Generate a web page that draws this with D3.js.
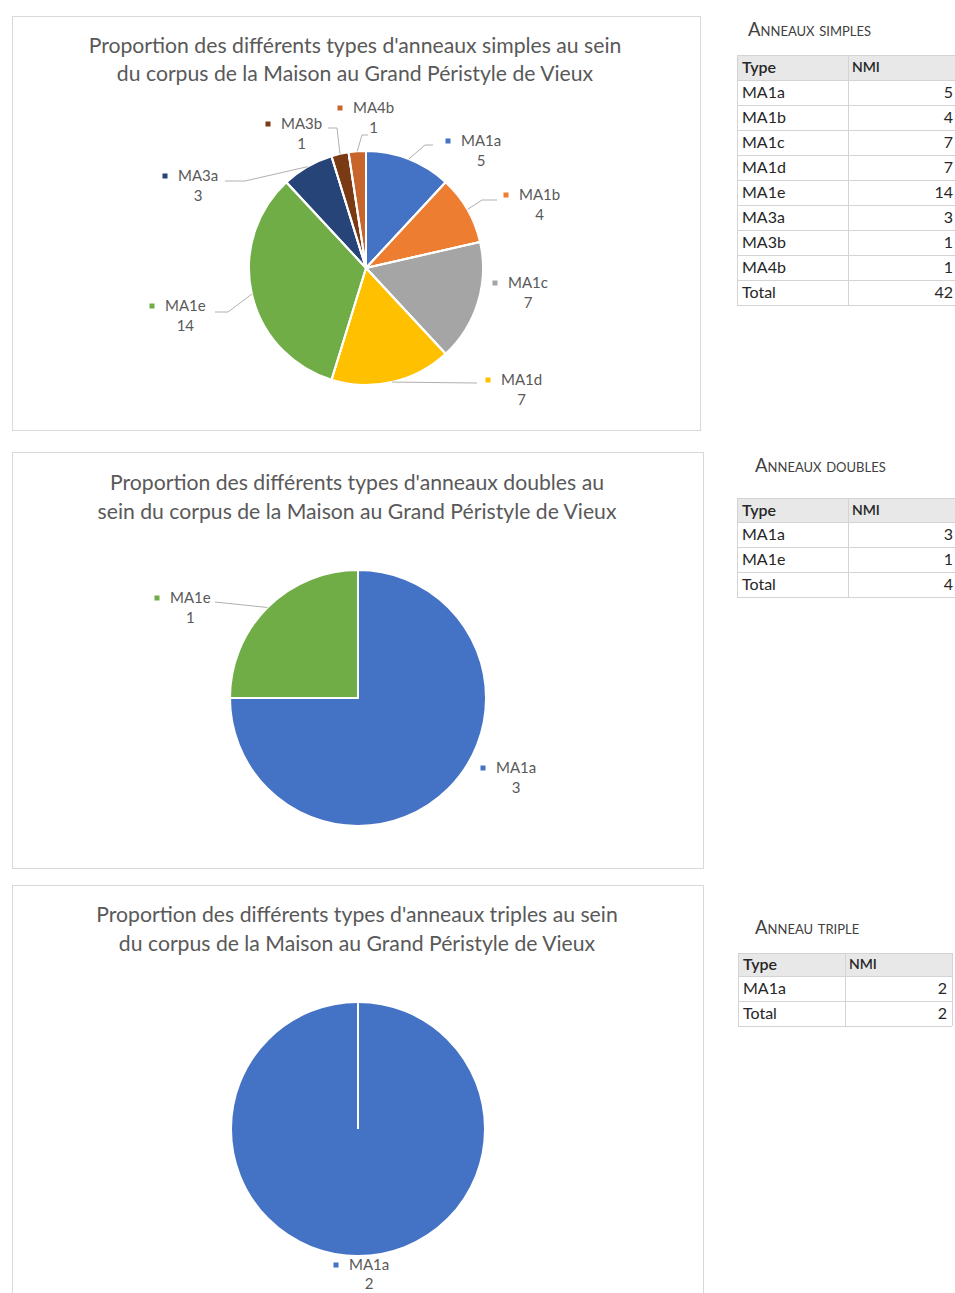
<!DOCTYPE html>
<html>
<head>
<meta charset="utf-8">
<script src="https://cdn.jsdelivr.net/npm/d3@7"></script>
<style>
  body { margin: 0; background: #fff; }
  svg { display: block; }
</style>
</head>
<body>
<svg id="fig" width="955" height="1293"></svg>
<script>
// ---- Data: number of individuals (NMI) per ring type ----
const simpleTypes = ["MA1a", "MA1b", "MA1c", "MA1d", "MA1e", "MA3a", "MA3b", "MA4b"];
const simpleNMI   = [5, 4, 7, 7, 14, 3, 1, 1];

const doubleTypes = ["MA1a", "MA1e"];
const doubleNMI   = [3, 1];

const tripleTypes = ["MA1a"];
const tripleNMI   = [2];

const typeColors = {
  MA1a: "#4472C4", MA1b: "#ED7D31", MA1c: "#A5A5A5", MA1d: "#FFC000",
  MA1e: "#70AD47", MA3a: "#264478", MA3b: "#7A3A14", MA4b: "#C8652C"
};

const chartTitles = [
  ["Proportion des différents types d'anneaux simples au sein",
   "du corpus de la Maison au Grand Péristyle de Vieux"],
  ["Proportion des différents types d'anneaux doubles au",
   "sein du corpus de la Maison au Grand Péristyle de Vieux"],
  ["Proportion des différents types d'anneaux triples au sein",
   "du corpus de la Maison au Grand Péristyle de Vieux"]
];
const tableTitles  = ["Anneaux simples", "Anneaux doubles", "Anneau triple"];
const tableHeaders = ["Type", "NMI"];
const totalLabel   = "Total";

// ---- Layout ----
const charts = [
  { types: simpleTypes, values: simpleNMI, title: chartTitles[0],
    box: [12, 16, 688, 414], titleX: 355, titleY: [46, 74],
    cx: 366, cy: 268, r: 117, valueGap: 20,
    labels: {
      MA1a: { mx: 448, my: 141, lead: [[425, 145], [433, 145]] },
      MA1b: { mx: 506, my: 195, lead: [[482, 200], [497, 200]] },
      MA1c: { mx: 495, my: 283, lead: [] },
      MA1d: { mx: 488, my: 380, lead: [[477, 383]] },
      MA1e: { mx: 152, my: 306, lead: [[228, 312], [215, 312]] },
      MA3a: { mx: 165, my: 176, lead: [[245, 181], [225, 181]] },
      MA3b: { mx: 268, my: 124, lead: [[337, 128], [328, 128]] },
      MA4b: { mx: 340, my: 108, lead: [[362, 135], [368, 135]] }
    } },
  { types: doubleTypes, values: doubleNMI, title: chartTitles[1],
    box: [12, 452, 691, 416], titleX: 357, titleY: [483, 512],
    cx: 358, cy: 698, r: 128, valueGap: 20,
    labels: {
      MA1a: { mx: 483, my: 768, lead: [] },
      MA1e: { mx: 157, my: 598, lead: [[215, 602]] }
    } },
  { types: tripleTypes, values: tripleNMI, title: chartTitles[2],
    box: [12, 885, 691, 420], titleX: 357, titleY: [915, 944],
    cx: 358, cy: 1129, r: 127, valueGap: 19,
    labels: {
      MA1a: { mx: 336, my: 1265, lead: [] }
    } }
];

const tables = [
  { title: tableTitles[0], types: simpleTypes, values: simpleNMI,
    titleX: 748, titleY: 30, x0: 737, x1: 848, x2: 962, top: 55, headH: 25, rowH: 25, valX: 953 },
  { title: tableTitles[1], types: doubleTypes, values: doubleNMI,
    titleX: 755, titleY: 466, x0: 737, x1: 848, x2: 962, top: 498, headH: 24, rowH: 25, valX: 953 },
  { title: tableTitles[2], types: tripleTypes, values: tripleNMI,
    titleX: 755, titleY: 928, x0: 738, x1: 845, x2: 952, top: 953, headH: 23, rowH: 25, valX: 947 }
];

const svg = d3.select("#fig");
const textCol = "#595959";
const chartFont = "Lato, 'Open Sans', sans-serif";

// ---- Pie charts ----
charts.forEach(c => {
  const g = svg.append("g");
  g.append("rect")
    .attr("x", c.box[0] + 0.5).attr("y", c.box[1] + 0.5)
    .attr("width", c.box[2]).attr("height", c.box[3])
    .attr("fill", "#fff").attr("stroke", "#d9d9d9");

  g.append("text")
    .attr("font-family", chartFont).attr("font-size", 21.2).attr("fill", textCol)
    .attr("text-anchor", "middle")
    .selectAll("tspan").data(c.title).join("tspan")
    .attr("x", c.titleX).attr("y", (d, i) => c.titleY[i]).attr("dy", "0.35em")
    .text(d => d);

  const rows = c.types.map((t, i) => ({ type: t, value: c.values[i] }));
  const arcs = d3.pie().sort(null).value(d => d.value)(rows);
  const arc = d3.arc().innerRadius(0).outerRadius(c.r);
  const edge = d3.arc().innerRadius(c.r).outerRadius(c.r);

  const pg = g.append("g").attr("transform", `translate(${c.cx},${c.cy})`);
  pg.selectAll("path.slice").data(arcs).join("path")
    .attr("class", "slice")
    .attr("d", arc)
    .attr("fill", d => typeColors[d.data.type])
    .attr("stroke", "#fff").attr("stroke-width", 2).attr("stroke-linejoin", "round");
  // radial border at each slice start (visible on a single full slice)
  pg.selectAll("line.border").data(arcs).join("line")
    .attr("class", "border")
    .attr("x1", 0).attr("y1", 0)
    .attr("x2", d => c.r * Math.sin(d.startAngle))
    .attr("y2", d => -c.r * Math.cos(d.startAngle))
    .attr("stroke", "#fff").attr("stroke-width", 2);

  // leader lines, from the slice rim to the label
  const line = d3.line();
  g.selectAll("path.leader").data(arcs.filter(d => c.labels[d.data.type].lead.length))
    .join("path")
    .attr("class", "leader")
    .attr("d", d => {
      const [ex, ey] = edge.centroid(d);
      return line([[c.cx + ex, c.cy + ey], ...c.labels[d.data.type].lead]);
    })
    .attr("fill", "none").attr("stroke", "#b0b0b0").attr("stroke-width", 1);

  // data labels: colour key, category name and value
  arcs.forEach(d => {
    const L = c.labels[d.data.type];
    g.append("rect")
      .attr("x", L.mx - 2.5).attr("y", L.my - 2.5).attr("width", 5).attr("height", 5)
      .attr("fill", typeColors[d.data.type]);
    const name = g.append("text")
      .attr("font-family", chartFont).attr("font-size", 15).attr("fill", textCol)
      .attr("x", L.mx + 13).attr("y", L.my).attr("dy", "0.35em")
      .text(d.data.type);
    const w = name.node().getComputedTextLength();
    g.append("text")
      .attr("font-family", chartFont).attr("font-size", 15).attr("fill", textCol)
      .attr("text-anchor", "middle")
      .attr("x", L.mx + 13 + w / 2).attr("y", L.my + c.valueGap).attr("dy", "0.35em")
      .text(d.value);
  });
});

// ---- Count tables ----
tables.forEach(t => {
  const g = svg.append("g").attr("font-family", chartFont);
  g.append("text")
    .attr("x", t.titleX).attr("y", t.titleY).attr("dy", "0.35em")
    .attr("font-size", 18.5).attr("fill", "#404040")
    .style("font-variant", "small-caps")
    .text(t.title);

  const body = t.types.map((ty, i) => [ty, t.values[i]]);
  body.push([totalLabel, d3.sum(t.values)]);
  const bottom = t.top + t.headH + body.length * t.rowH;

  g.append("rect").attr("x", t.x0).attr("y", t.top)
    .attr("width", t.x2 - t.x0).attr("height", t.headH).attr("fill", "#e8e8e8");

  // grid
  const hl = [t.top, ...body.map((b, i) => t.top + t.headH + i * t.rowH), bottom];
  g.selectAll("line.h").data(hl).join("line").attr("class", "h")
    .attr("x1", t.x0).attr("x2", t.x2).attr("y1", d => d + 0.5).attr("y2", d => d + 0.5)
    .attr("stroke", "#d4d4d4");
  g.selectAll("line.v").data([t.x0, t.x1, t.x2]).join("line").attr("class", "v")
    .attr("x1", d => d + 0.5).attr("x2", d => d + 0.5)
    .attr("y1", t.top).attr("y2", bottom)
    .attr("stroke", "#d4d4d4");

  const fs = 16;
  g.append("text").attr("x", t.x0 + 5).attr("y", t.top + t.headH / 2).attr("dy", "0.35em")
    .attr("font-size", fs).attr("font-weight", 600).attr("fill", "#262626").text(tableHeaders[0]);
  g.append("text").attr("x", t.x1 + 4).attr("y", t.top + t.headH / 2).attr("dy", "0.35em")
    .attr("font-size", 14).attr("font-weight", 600).attr("fill", "#262626").text(tableHeaders[1]);

  body.forEach((b, i) => {
    const y = t.top + t.headH + i * t.rowH + t.rowH / 2;
    g.append("text").attr("x", t.x0 + 5).attr("y", y).attr("dy", "0.35em")
      .attr("font-size", fs).attr("fill", "#262626").text(b[0]);
    g.append("text").attr("x", t.valX).attr("y", y).attr("dy", "0.35em")
      .attr("text-anchor", "end").attr("font-size", fs).attr("fill", "#262626").text(b[1]);
  });
});
</script>
</body>
</html>
